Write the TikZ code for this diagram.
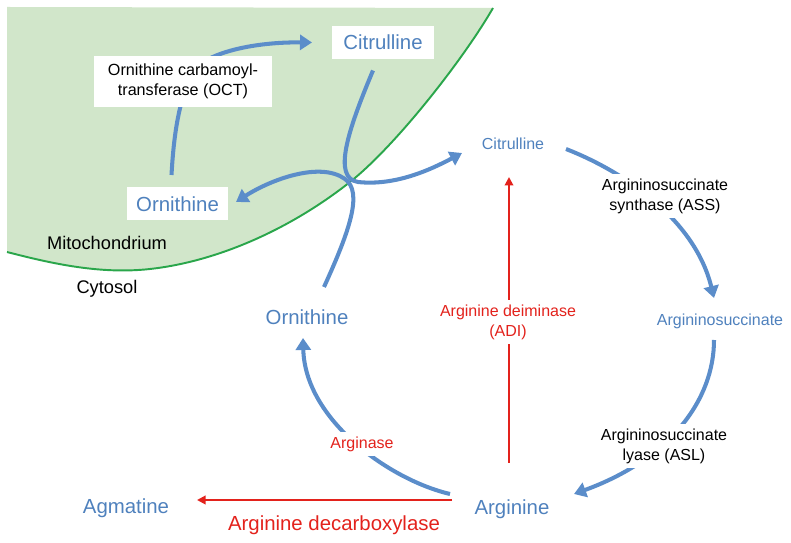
\documentclass[tikz,border=0pt]{standalone}
\usepackage{fontspec}
\setmainfont{Liberation Sans}
\usetikzlibrary{arrows.meta,calc}
\definecolor{molblue}{HTML}{4F81BD}
\definecolor{flowblue}{HTML}{5B8DCA}
\definecolor{enzred}{HTML}{E3221C}
\definecolor{mitofill}{HTML}{D1E6CA}
\definecolor{mitoline}{HTML}{2AA64B}

\begin{document}
\begin{tikzpicture}[x=0.02cm,y=-0.02cm,node distance=0.88cm,
    mol node/.style={text=molblue,inner sep=1pt,text depth=0pt,font=\fontsize{11.6}{14}\selectfont},
    small mol/.style={mol node,font=\fontsize{9.1}{11}\selectfont},
    box node/.style={mol node,fill=white,minimum width=2.03cm,minimum height=0.66cm},
    place node/.style={text depth=0pt,font=\fontsize{10.4}{12}\selectfont},
    enz node/.style={fill=white,align=center,inner sep=2.5pt,font=\fontsize{9.1}{11.3}\selectfont},
    flow/.style={draw=flowblue,line width=2.3pt,-{Triangle[length=0.24cm,width=0.3cm]}},
    red flow/.style={draw=enzred,line width=1.1pt,-{Triangle[length=0.17cm,width=0.17cm]}}]
    \useasboundingbox (0,0) rectangle (791,543);

    % mitochondrion
    \fill[mitofill] (7,7) -- (7,252) .. controls (55,264.5) and (102,274.3) .. (150,269)
        .. controls (217,261.6) and (290,229.4) .. (350,182)
        .. controls (395,146.5) and (463,60) .. (493,8) -- cycle;
    \draw[mitoline,line width=1.1pt] (7,252) .. controls (55,264.5) and (102,274.3) .. (150,269)
        .. controls (217,261.6) and (290,229.4) .. (350,182)
        .. controls (395,146.5) and (463,60) .. (493,8);

    \node[box node] (citM) at (383,42.5) {Citrulline};
    \node[box node] (ornM) at (177.5,204) {Ornithine};
    \node[place node] (mito) at (107,243) {Mitochondrium};
    \node[place node] (cyto) [below of=mito] {Cytosol};

    % cytosol
    \node[small mol] (citC) at (513,144) {Citrulline};
    \node[small mol] (argS) at (720,320) {Argininosuccinate};
    \node[mol node] (argN) at (512,507) {Arginine};
    \node[mol node] (ornC) at (307,317) {Ornithine};
    \node[mol node] (agm) at (126,506) {Agmatine};

    \draw[flow] ($(ornM)+(-6,-29)$) .. controls (174,130) and (180,95) .. (195,68)
        .. controls (215,50) and (260,42) .. ($(citM)+(-71,0)$);
    \draw[flow] ($(citM)+(-10,28)$) .. controls (348,130) and (332,178) .. (358,182)
        .. controls (395,186) and (430,170) .. ($(citC)+(-51,9)$);
    \draw[flow] ($(ornC)+(17,-30)$) .. controls (350,230) and (363,192) .. (345,179)
        .. controls (320,161) and (270,180) .. ($(ornM)+(58.5,-2)$);
    \draw[flow] ($(citC)+(53,5)$) .. controls (625,172) and (695,220) .. ($(argS)+(-6,-22)$);
    \draw[flow] ($(argS)+(-6,20)$) .. controls (714,400) and (670,459) .. ($(argN)+(62,-13)$);
    \draw[flow] ($(argN)+(-62,-13)$) .. controls (390,480) and (305,420) .. ($(ornC)+(-4,21)$);

    \draw[red flow] ($(argN)+(-3,-44)$) -- ($(citC)+(-4,33)$);
    \draw[red flow] ($(argN)+(-60,-7)$) -- ($(agm)+(71,-6)$);

    % enzymes
    \node[enz node,minimum width=3.56cm,minimum height=1.02cm,font=\fontsize{9.2}{11.3}\selectfont] (oct) at (183,81.5) {Ornithine carbamoyl-\\transferase (OCT)};
    \node[enz node] (ass) at (665,196) {Argininosuccinate\\synthase (ASS)};
    \node[enz node] (asl) at (664,446) {Argininosuccinate\\lyase (ASL)};
    \node[enz node,text=enzred] (adi) at (508,322) {Arginine deiminase\\(ADI)};
    \node[enz node,text=enzred] (arg) at (362,444) {Arginase};
    \node[text=enzred,font=\fontsize{11.6}{14}\selectfont] (adc) at (334,525) {Arginine decarboxylase};
\end{tikzpicture}
\end{document}
